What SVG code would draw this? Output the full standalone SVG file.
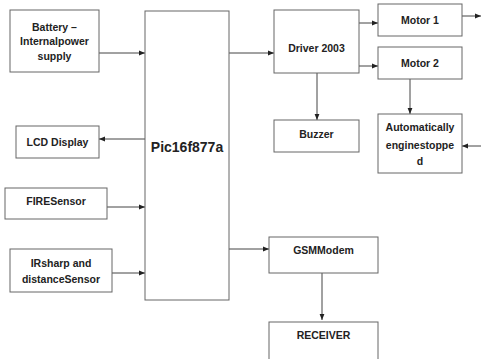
<svg xmlns="http://www.w3.org/2000/svg" width="481" height="359" viewBox="0 0 481 359">
<defs>
<marker id="ah" viewBox="0 0 10 10" refX="10" refY="5" markerWidth="6" markerHeight="6" orient="auto" markerUnits="userSpaceOnUse">
<path d="M0,1 L10,5 L0,9 z" fill="#222"/>
</marker>
</defs>
<style>
.box{fill:#fff;stroke:#666;stroke-width:1}
.t{font-family:"Liberation Sans",Arial,sans-serif;font-size:10.5px;font-weight:bold;fill:#222;text-anchor:middle}
.big{font-size:14px}
.c{stroke:#444;stroke-width:1;fill:none;marker-end:url(#ah)}
</style>
<rect width="481" height="359" fill="#fff"/>
<g id="connectors">
<line class="c" x1="99" y1="53" x2="145" y2="53"/>
<line class="c" x1="145" y1="139" x2="99" y2="139"/>
<line class="c" x1="107" y1="207" x2="145" y2="207"/>
<line class="c" x1="112" y1="273" x2="145" y2="273"/>
<line class="c" x1="229" y1="53" x2="274" y2="53"/>
<line class="c" x1="359" y1="23" x2="378" y2="23"/>
<line class="c" x1="359" y1="66" x2="378" y2="66"/>
<line class="c" x1="462" y1="16" x2="481" y2="16"/>
<line class="c" x1="317" y1="73" x2="317" y2="120"/>
<line class="c" x1="410" y1="79" x2="410" y2="114"/>
<line class="c" x1="481" y1="146" x2="462" y2="146"/>
<line class="c" x1="229" y1="249" x2="269" y2="249"/>
<line class="c" x1="322" y1="273" x2="322" y2="320"/>
</g>
<g id="battery"><rect class="box" x="10" y="10" width="89" height="62"/>
<text class="t" x="54.5" y="31">Battery –</text><text class="t" x="54.5" y="45">Internalpower</text><text class="t" x="54.5" y="60">supply</text></g>
<g id="pic"><rect class="box" x="145" y="11" width="84" height="289"/>
<text class="t big" x="187" y="152">Pic16f877a</text></g>
<g id="lcd"><rect class="box" x="16" y="126" width="83" height="32"/>
<text class="t" x="57.5" y="146">LCD Display</text></g>
<g id="fire"><rect class="box" x="5" y="188" width="102" height="31"/>
<text class="t" x="56" y="205">FIRESensor</text></g>
<g id="ir"><rect class="box" x="10" y="249" width="102" height="43"/>
<text class="t" x="61" y="267">IRsharp and</text><text class="t" x="61" y="283">distanceSensor</text></g>
<g id="driver"><rect class="box" x="274" y="10" width="85" height="63"/>
<text class="t" x="316.5" y="52">Driver 2003</text></g>
<g id="motor1"><rect class="box" x="378" y="4" width="84" height="32"/>
<text class="t" x="420" y="24">Motor 1</text></g>
<g id="motor2"><rect class="box" x="378" y="47" width="84" height="32"/>
<text class="t" x="420" y="67">Motor 2</text></g>
<g id="buzzer"><rect class="box" x="274" y="120" width="85" height="32"/>
<text class="t" x="316.5" y="138">Buzzer</text></g>
<g id="auto"><rect class="box" x="378" y="114" width="84" height="59"/>
<text class="t" x="420" y="131">Automatically</text><text class="t" x="420" y="149">enginestoppe</text><text class="t" x="420" y="165">d</text></g>
<g id="gsm"><rect class="box" x="269" y="237" width="109" height="36"/>
<text class="t" x="323.5" y="254">GSMModem</text></g>
<g id="receiver"><rect class="box" x="269" y="322" width="109" height="40"/>
<text class="t" x="323.5" y="339">RECEIVER</text></g>
</svg>
